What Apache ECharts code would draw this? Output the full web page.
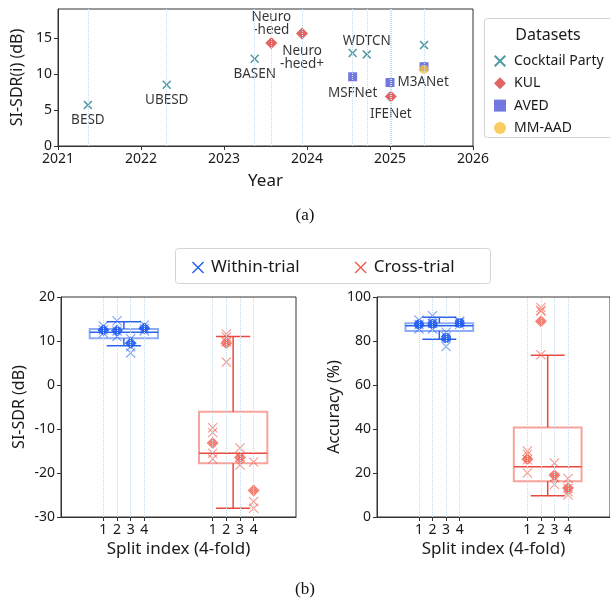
<!DOCTYPE html>
<html><head><meta charset="utf-8">
<script src="https://cdn.jsdelivr.net/npm/echarts@6/dist/echarts.min.js"></script>
<style>html,body{margin:0;padding:0;background:#fff}#c{width:610px;height:601px}</style>
</head><body><div id="c"></div>
<script>
// ---------- Data (a) ----------
const cocktailYears = [2021.36, 2022.31, 2023.37, 2024.55, 2024.72, 2025.41];
const cocktailSdr   = [5.7, 8.5, 12.1, 12.9, 12.7, 14.0];
const cocktailNames = ['BESD', 'UBESD', 'BASEN', '', 'WDTCN', ''];
const kulYears = [2023.57, 2023.94, 2025.01];
const kulSdr   = [14.3, 15.6, 6.85];
const kulNames = ['Neuro\n-heed', 'Neuro\n-heed+', 'IFENet'];
const avedYears = [2024.55, 2025.0, 2025.41];
const avedSdr   = [9.6, 8.8, 11.0];
const avedNames = ['MSFNet', 'M3ANet', ''];
const mmaadYears = [2025.41];
const mmaadSdr   = [10.65];
const mmaadNames = [''];
const datasetNames = ['Cocktail Party', 'KUL', 'AVED', 'MM-AAD'];
const yearTicks = [2021, 2022, 2023, 2024, 2025, 2026];
const sdrTicksA = [0, 5, 10, 15];

// ---------- Data (b) ----------
const foldLabels = ['1', '2', '3', '4'];
const withinPos = [1, 2, 3, 4];
const crossPos  = [9, 10, 11, 12];
const sdrWithin = [[13.4, 12.5, 11.8], [14.6, 12.3, 11.0], [10.5, 8.7, 7.3], [13.6, 12.8, 12.3]];
const sdrWithinMean = [12.5, 12.4, 9.5, 12.9];
const sdrCross = [[-9.7, -10.8, -15.5, -16.8], [11.6, 10.9, 9.8, 5.2], [-14.3, -16.5, -18.2], [-17.5, -26.5, -28.0]];
const sdrCrossMean = [-13.2, 9.5, -16.5, -24.0];
const accWithin = [[89.5, 87.5, 85.5], [91.5, 88.0, 85.5], [84.0, 82.0, 77.5], [89.0, 88.5, 87.5]];
const accWithinMean = [87.5, 87.7, 81.3, 88.2];
const accCross = [[30.0, 28.5, 26.0, 20.0], [95.2, 94.0, 93.5, 73.8], [24.5, 18.0, 14.8], [17.5, 13.0, 11.5, 10.0]];
const accCrossMean = [26.2, 89.0, 19.0, 13.2];
// box stats: [lower whisker, Q1, median, Q3, upper whisker]
const sdrWithinBox = [8.9, 10.6, 12.0, 12.7, 14.4];
const sdrCrossBox  = [-28.0, -17.8, -15.5, -6.1, 11.0];
const accWithinBox = [80.8, 84.6, 86.9, 88.1, 90.8];
const accCrossBox  = [9.7, 16.3, 22.8, 40.7, 73.5];
const sdrTicksB = [-30, -20, -10, 0, 10, 20];
const accTicksB = [0, 20, 40, 60, 80, 100];
const groupNames = ['Within-trial', 'Cross-trial'];

// ---------- Styles ----------
const FONT = 'Noto Sans';
const TXT = '#1a1a1a';
const AX = '#333';
const DOT = '#c4dcf0';
const TEAL = '#26808e', KULRED = '#d93f3f', AVEDBLUE = '#4f56d8', MMYEL = '#f8c13a';
const BLUE = '#1f5bf0', RED = '#f05a4a';
const XPATH = 'path://M0,1.2 L1.2,0 L5,3.8 L8.8,0 L10,1.2 L6.2,5 L10,8.8 L8.8,10 L5,6.2 L1.2,10 L0,8.8 L3.8,5 Z';
const XPATH_THIN = 'path://M0,0.8 L0.8,0 L5,4.2 L9.2,0 L10,0.8 L5.8,5 L10,9.2 L9.2,10 L5,5.8 L0.8,10 L0,9.2 L4.2,5 Z';
const BOX_HALF = 2.5, CAP_HALF = 1.25;

const labelPlace = {
  'BESD': ['bottom', 4], 'UBESD': ['bottom', 4], 'BASEN': ['bottom', 4], 'WDTCN': ['top', 2],
  'Neuro\n-heed': ['top', 0.5], 'Neuro\n-heed+': ['bottom', 5], 'IFENet': ['bottom', 5],
  'MSFNet': ['bottom', 5], 'M3ANet': ['right', 3]
};

function pts(xs, ys, names) {
  return xs.map((x, i) => {
    const n = names[i];
    const p = labelPlace[n];
    return {
      value: [x, ys[i]], name: n,
      label: n ? { show: true, formatter: n, position: p[0], distance: p[1],
        fontSize: 13.5, lineHeight: 13, color: '#000', fontFamily: FONT } : { show: false }
    };
  });
}
function flat(pos, vals) {
  const out = [];
  vals.forEach((arr, i) => arr.forEach(v => out.push([pos[i], v])));
  return out;
}
function pair(pos, vals) { return vals.map((v, i) => [pos[i], v]); }
function mean(a) { return a.reduce((s, v) => s + v, 0) / a.length; }

function boxRenderer(color, edge) {
  return function (params, api) {
    const c = api.value(0);
    const lo = api.value(1), q1 = api.value(2), md = api.value(3), q3 = api.value(4), hi = api.value(5);
    const xl = api.coord([c - BOX_HALF, q1])[0], xr = api.coord([c + BOX_HALF, q1])[0];
    const capL = api.coord([c - CAP_HALF, q1])[0], capR = api.coord([c + CAP_HALF, q1])[0];
    const cx = api.coord([c, q1])[0];
    const yLo = api.coord([c, lo])[1], yHi = api.coord([c, hi])[1];
    const yQ1 = api.coord([c, q1])[1], yQ3 = api.coord([c, q3])[1], yMd = api.coord([c, md])[1];
    const ls = { stroke: color, lineWidth: 1.5 };
    return { type: 'group', children: [
      { type: 'line', shape: { x1: cx, y1: yQ3, x2: cx, y2: yHi }, style: ls },
      { type: 'line', shape: { x1: cx, y1: yQ1, x2: cx, y2: yLo }, style: ls },
      { type: 'line', shape: { x1: capL, y1: yHi, x2: capR, y2: yHi }, style: ls },
      { type: 'line', shape: { x1: capL, y1: yLo, x2: capR, y2: yLo }, style: ls },
      { type: 'rect', shape: { x: xl, y: yQ3, width: xr - xl, height: yQ1 - yQ3 },
        style: { fill: 'none', stroke: edge, lineWidth: 2 } },
      { type: 'line', shape: { x1: xl, y1: yMd, x2: xr, y2: yMd }, style: { stroke: color, lineWidth: 1.5 } }
    ] };
  };
}

const allPos = withinPos.concat(crossPos);
const dotLines = (xs) => ({
  silent: true, symbol: ['none', 'none'], label: { show: false },
  lineStyle: { color: DOT, type: 'dotted', width: 1 },
  emphasis: { disabled: true },
  data: xs.map(x => ({ xAxis: x }))
});

const tickLabel = { fontSize: 14, color: TXT, fontFamily: FONT };
const axisLine = { show: true, onZero: false, lineStyle: { color: AX, width: 1 } };
const axisTick = { show: true, length: 4, lineStyle: { color: AX } };

function bottomX(gi) {
  return {
    gridIndex: gi, type: 'value', min: -2.1, max: 15.1,
    name: 'Split index (4-fold)', nameLocation: 'middle', nameGap: 24,
    nameTextStyle: { fontSize: 17, color: TXT, fontFamily: FONT },
    axisLine, splitLine: { show: false },
    axisTick: Object.assign({}, axisTick, { customValues: allPos }),
    axisLabel: Object.assign({}, tickLabel, { customValues: allPos, margin: 6,
      formatter: v => foldLabels[allPos.indexOf(Math.round(v)) % 4] })
  };
}
function bottomY(gi, min, max, ticks, name, gap) {
  return {
    gridIndex: gi, type: 'value', min, max,
    name, nameLocation: 'middle', nameGap: gap,
    nameTextStyle: { fontSize: 16, color: TXT, fontFamily: FONT },
    axisLine, splitLine: { show: false },
    axisTick: Object.assign({}, axisTick, { customValues: ticks }),
    axisLabel: Object.assign({}, tickLabel, { customValues: ticks, margin: 6, formatter: v => String(v) })
  };
}

function groupSeries(xi, within, withinMean, cross, crossMean, wBox, cBox, withinMeanSymbol) {
  return [
    { type: 'custom', xAxisIndex: xi, yAxisIndex: xi, z: 2,
      renderItem: boxRenderer('#2a62ee', 'rgba(31,91,240,0.5)'),
      encode: { x: 0, y: [1, 2, 3, 4, 5] },
      data: [[mean(withinPos)].concat(wBox)], markLine: dotLines(allPos) },
    { type: 'custom', xAxisIndex: xi, yAxisIndex: xi, z: 2,
      renderItem: boxRenderer('#e9493c', 'rgba(240,90,74,0.55)'),
      encode: { x: 0, y: [1, 2, 3, 4, 5] },
      data: [[mean(crossPos)].concat(cBox)] },
    { name: groupNames[0], type: 'scatter', xAxisIndex: xi, yAxisIndex: xi, z: 3,
      symbol: XPATH_THIN, symbolSize: 10,
      itemStyle: { color: BLUE, opacity: 0.55 }, data: flat(withinPos, within) },
    { name: groupNames[1], type: 'scatter', xAxisIndex: xi, yAxisIndex: xi, z: 3,
      symbol: XPATH_THIN, symbolSize: 10,
      itemStyle: { color: RED, opacity: 0.6 }, data: flat(crossPos, cross) },
    { name: 'Within-trial mean', type: 'scatter', xAxisIndex: xi, yAxisIndex: xi, z: 4,
      symbol: withinMeanSymbol, symbolSize: withinMeanSymbol === 'circle' ? 10 : 12,
      itemStyle: { color: BLUE, opacity: 0.85 }, data: pair(withinPos, withinMean) },
    { name: 'Cross-trial mean', type: 'scatter', xAxisIndex: xi, yAxisIndex: xi, z: 4,
      symbol: 'diamond', symbolSize: 12,
      itemStyle: { color: RED, opacity: 0.75 }, data: pair(crossPos, crossMean) }
  ];
}

const chart = echarts.init(document.getElementById('c'), null, { renderer: 'canvas' });
const option = {
  animation: false,
  backgroundColor: '#fff',
  textStyle: { fontFamily: FONT },
  grid: [
    { left: 58, top: 9, width: 415, height: 137, show: true, borderColor: AX, borderWidth: 1, containLabel: false },
    { left: 61, top: 297, width: 235, height: 220, show: true, borderColor: AX, borderWidth: 1 },
    { left: 377, top: 297, width: 235, height: 220, show: true, borderColor: AX, borderWidth: 1 }
  ],
  xAxis: [
    { gridIndex: 0, type: 'value', min: 2021, max: 2026,
      name: 'Year', nameLocation: 'middle', nameGap: 27,
      nameTextStyle: { fontSize: 17, color: TXT, fontFamily: FONT },
      axisLine, splitLine: { show: false },
      axisTick: Object.assign({}, axisTick, { customValues: yearTicks }),
      axisLabel: Object.assign({}, tickLabel, { customValues: yearTicks, margin: 6, formatter: v => String(v) }) },
    bottomX(1), bottomX(2)
  ],
  yAxis: [
    { gridIndex: 0, type: 'value', min: 0, max: 19,
      name: 'SI-SDR(i) (dB)', nameLocation: 'middle', nameGap: 31,
      nameTextStyle: { fontSize: 16, color: TXT, fontFamily: FONT },
      axisLine, splitLine: { show: false },
      axisTick: Object.assign({}, axisTick, { customValues: sdrTicksA }),
      axisLabel: Object.assign({}, tickLabel, { customValues: sdrTicksA, margin: 6, formatter: v => String(v) }) },
    bottomY(1, -30, 20, sdrTicksB, 'SI-SDR (dB)', 34),
    bottomY(2, 0, 100, accTicksB, 'Accuracy (%)', 35)
  ],
  legend: [
    { data: datasetNames, orient: 'vertical', left: 494, top: 54, padding: 0,
      itemWidth: 12, itemHeight: 12, itemGap: 8.3, selectedMode: false,
      textStyle: { fontSize: 14, lineHeight: 12, color: TXT, fontFamily: FONT, padding: [0, 0, 0, 3] } },
    { data: groupNames.map(n => ({ name: n, itemStyle: { opacity: 1 } })),
      orient: 'horizontal', left: 192, top: 259, padding: 0,
      itemWidth: 12, itemHeight: 12, itemGap: 55, selectedMode: false,
      textStyle: { fontSize: 17, lineHeight: 12, color: TXT, fontFamily: FONT, padding: [0, 0, 0, 2] } }
  ],
  graphic: [
    { type: 'rect', shape: { x: 484.5, y: 18.5, width: 140, height: 119, r: 3 },
      style: { fill: '#fff', stroke: '#d4d4d4', lineWidth: 1 }, z: -1 },
    { type: 'text', x: 548, y: 35, style: { text: 'Datasets', fontSize: 16, fill: TXT,
      fontFamily: FONT, align: 'center', verticalAlign: 'middle' } },
    { type: 'rect', shape: { x: 175.5, y: 248.5, width: 315, height: 35, r: 3 },
      style: { fill: '#fff', stroke: '#d4d4d4', lineWidth: 1 }, z: -1 },
    { type: 'text', x: 305, y: 216, style: { text: '(a)', fontSize: 17, fill: '#111',
      fontFamily: 'Liberation Serif', align: 'center', verticalAlign: 'middle' } },
    { type: 'text', x: 305, y: 590, style: { text: '(b)', fontSize: 17, fill: '#111',
      fontFamily: 'Liberation Serif', align: 'center', verticalAlign: 'middle' } }
  ],
  series: [
    { name: datasetNames[0], type: 'scatter', xAxisIndex: 0, yAxisIndex: 0,
      symbol: XPATH, symbolSize: 9, itemStyle: { color: TEAL },
      data: pts(cocktailYears, cocktailSdr, cocktailNames),
      markLine: dotLines(cocktailYears.concat(kulYears, avedYears, mmaadYears)) },
    { name: datasetNames[1], type: 'scatter', xAxisIndex: 0, yAxisIndex: 0,
      symbol: 'diamond', symbolSize: 12, itemStyle: { color: KULRED },
      data: pts(kulYears, kulSdr, kulNames) },
    { name: datasetNames[2], type: 'scatter', xAxisIndex: 0, yAxisIndex: 0,
      symbol: 'rect', symbolSize: 9, itemStyle: { color: AVEDBLUE },
      data: pts(avedYears, avedSdr, avedNames) },
    { name: datasetNames[3], type: 'scatter', xAxisIndex: 0, yAxisIndex: 0,
      symbol: 'circle', symbolSize: 9, itemStyle: { color: MMYEL },
      data: pts(mmaadYears, mmaadSdr, mmaadNames) }
  ].concat(
    groupSeries(1, sdrWithin, sdrWithinMean, sdrCross, sdrCrossMean, sdrWithinBox, sdrCrossBox, 'diamond'),
    groupSeries(2, accWithin, accWithinMean, accCross, accCrossMean, accWithinBox, accCrossBox, 'circle')
  )
};
chart.setOption(option);
</script></body></html>
